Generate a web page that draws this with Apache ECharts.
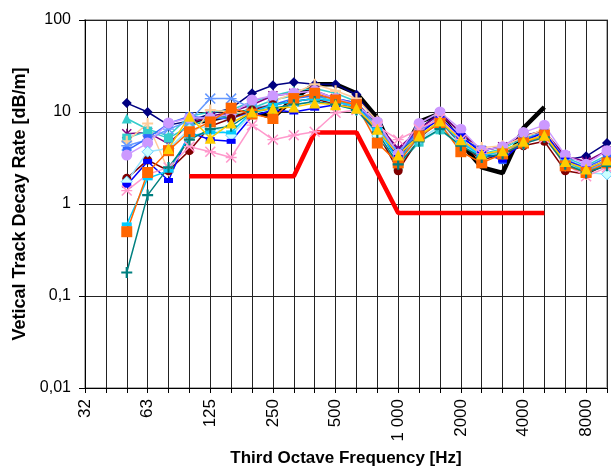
<!DOCTYPE html>
<html>
<head>
<meta charset="utf-8">
<script src="https://cdn.jsdelivr.net/npm/echarts@6/dist/echarts.min.js"></script>
<style>
html, body { margin: 0; padding: 0; background: #fff; }
#chart { width: 611px; height: 467px; }
</style>
</head>
<body>
<div id="chart"></div>
<script>
// third octave bands
var bands = ['32', '40', '50', '63', '80', '100', '125', '160', '200', '250', '315', '400', '500',
    '630', '800', '1000', '1250', '1600', '2000', '2500', '3150', '4000', '5000', '6300', '8000', '10000'];
var bandLabels = { '32': '32', '63': '63', '125': '125', '250': '250', '500': '500',
    '1000': '1 000', '2000': '2000', '4000': '4000', '8000': '8000' };

// measured sites, 50 Hz .. 10 kHz
var navyDiamond = [12.5, 10, 7.2, 8, 9.5, 11, 16, 19.5, 21, 20, 20, 15.5, 7.5, 3.8, 6.5, 10, 5.8, 3.8, 4.2, 5.5, 6.3, 3.0, 3.3, 4.6];
var turqTriangle = [8.5, 6.5, 5.5, 9, 10, 10.5, 13, 15, 17, 18, 16, 13, 7, 3.3, 6, 8.5, 5, 3.5, 4, 5.2, 6, 3.2, 2.6, 3.4];
var purpleStar = [5.8, 6, 4.5, 7.5, 9, 10, 12, 15, 16, 17, 14, 12.5, 7.5, 4, 6.5, 9.5, 6, 3.8, 4.2, 5.5, 6.2, 3.3, 2.9, 3.8];
var turqSquare = [5.2, 6.2, 5.2, 7, 8.5, 9, 11, 13.5, 15, 15, 13, 12, 5.5, 2.6, 4.7, 6.4, 4.3, 3.3, 3.8, 4.8, 5.5, 2.8, 2.3, 2.9];
var peachPlus = [4.8, 7.5, 2.3, 5, 10.5, 10, 9.5, 13, 16, 20, 17, 14, 8, 3.2, 5.5, 9, 5.2, 4.1, 4.3, 5.3, 6.5, 2.9, 2.1, 3.0];
var skyStar = [4.3, 5, 6.5, 8, 14, 14, 11, 12, 13, 14, 13, 11, 7, 3.7, 6, 9, 5, 3.3, 3.7, 4.8, 5.6, 3.1, 2.4, 2.8];
var royalSquare = [3.8, 5.2, 7.5, 9, 8.5, 8.5, 10, 12, 14, 15, 14, 12.5, 6.5, 3.5, 6.5, 8, 5.2, 3.9, 3.0, 5.0, 6.0, 3.0, 2.5, 3.2];
var lavenderCircle = [3.4, 4.6, 7.6, 8.6, 8.6, 9.5, 13.5, 15, 16, 17, 14, 12, 7.8, 3.5, 7.5, 10, 6.5, 3.8, 4.2, 6, 7.2, 3.4, 2.7, 3.8];
var maroonCircle = [1.9, 3.0, 2.3, 3.8, 7, 8.5, 10.5, 12, 13, 14, 12, 11, 6, 2.3, 5.2, 8, 4.5, 3.0, 3.5, 4.3, 4.8, 2.3, 2.1, 2.7];
var iceDiamond = [1.75, 3.7, 4, 6.5, 7, 5.6, 9.5, 11, 12, 13, 12, 10.5, 5.5, 3, 5, 7, 4.5, 3.2, 3.6, 4.5, 5.5, 2.6, 2.2, 2.1];
var blueDash = [1.6, 2.9, 1.8, 6, 5, 4.8, 9, 10.5, 10, 11, 12, 11, 6.5, 3.2, 5.8, 8.5, 5.5, 3.6, 3.0, 4.8, 6, 3.0, 2.4, 3.0];
var pinkStar = [1.4, 2.1, 2.5, 4.2, 3.7, 3.2, 7.2, 5.0, 5.6, 6.1, 9.8, 10.5, 7, 5.0, 6.5, 8.5, 5.0, 3.5, 3.6, 4.6, 5.2, 2.7, 2.0, 2.5];
var cyanDash = [0.6, 1.9, 2.3, 5.5, 6, 6, 10, 12, 13, 14, 13, 11.5, 6.5, 3.0, 5.3, 8, 4.7, 3.3, 3.8, 4.7, 5.4, 2.9, 2.3, 2.6];
var orangeSquare = [0.5, 2.2, 3.8, 6.1, 7.8, 11, 9.5, 8.5, 14, 16, 13.5, 12, 4.6, 2.8, 5.5, 7.5, 3.7, 2.8, 3.5, 4.6, 5.6, 2.6, 2.2, 2.8];
var tealPlus = [0.18, 1.25, 2.5, 5, 6.5, 7, 10, 11, 12, 13, 12, 10.5, 6.0, 2.7, 4.8, 6.5, 4.3, 3.2, 3.5, 4.5, 5.3, 2.7, 2.2, 2.6];
var goldTriangle = [null, null, 4, 9, 5.2, 7.6, 10, 11, 11.3, 12.5, 12, 11, 6.5, 3.4, 5.5, 8, 5, 3.5, 3.8, 4.8, 5.6, 2.9, 2.4, 3.0];
// 100 Hz .. 5 kHz
var blackLine = [7.6, 8.2, 9.3, 10.3, 8.7, 14, 20, 20, 16, 8.6, 2.8, 7.8, 9.6, 4.6, 2.5, 2.17, 6.7, 11.3];
var redLimit = [2, 2, 2, 2, 2, 2, 6, 6, 6, 2.2, 0.8, 0.8, 0.8, 0.8, 0.8, 0.8, 0.8, 0.8];

var plusPath = 'path://M4,0 H6 V4 H10 V6 H6 V10 H4 V6 H0 V4 H4 Z';
var starPath = 'path://M0,1 L1,0 L5,4 L9,0 L10,1 L6,5 L10,9 L9,10 L5,6 L1,10 L0,9 L4,5 Z M4.4,0 H5.6 V10 H4.4 Z';
var xPath = 'path://M0,1 L1,0 L5,4 L9,0 L10,1 L6,5 L10,9 L9,10 L5,6 L1,10 L0,9 L4,5 Z M0,4.4 H10 V5.6 H0 Z';

// pad arrays so they line up with the band categories
function pad(arr, first) {
    var out = [];
    for (var i = 0; i < bands.length; i++) {
        var k = i - first;
        out.push(k >= 0 && k < arr.length ? arr[k] : null);
    }
    return out;
}

function site(data, color, symbol, size, extra) {
    var s = {
        type: 'line',
        data: pad(data, 2),
        symbol: symbol,
        symbolSize: size,
        showAllSymbol: true,
        connectNulls: false,
        lineStyle: { color: color, width: 1.5 },
        itemStyle: { color: color },
        emphasis: { disabled: true },
        animation: false
    };
    if (extra) {
        for (var key in extra) s[key] = extra[key];
    }
    return s;
}

var chart = echarts.init(document.getElementById('chart'));
var axisFont = 'Liberation Sans';

var option = {
    animation: false,
    grid: {
        left: 85,
        right: 4,
        top: 20,
        bottom: 79,
        outerBoundsMode: 'none',
        show: true,
        borderColor: '#b0b0b0',
        borderWidth: 2
    },
    xAxis: {
        type: 'category',
        data: bands,
        boundaryGap: false,
        name: 'Third Octave Frequency [Hz]',
        nameLocation: 'middle',
        nameGap: 56,
        nameTextStyle: { fontFamily: axisFont, fontWeight: 'bold', fontSize: 17, color: '#000' },
        axisLine: { lineStyle: { color: '#000', width: 1 } },
        axisTick: { show: true, interval: 0, length: 5, lineStyle: { color: '#000' } },
        axisLabel: {
            interval: 0,
            rotate: 90,
            margin: 11,
            fontFamily: axisFont,
            fontSize: 17,
            color: '#000',
            formatter: function (v) { return bandLabels[v] || ''; }
        },
        splitLine: { show: true, interval: 0, lineStyle: { color: '#222', width: 1 } }
    },
    yAxis: {
        type: 'log',
        logBase: 10,
        min: 0.01,
        max: 100,
        name: 'Vetical Track Decay Rate [dB/m]',
        nameLocation: 'middle',
        nameGap: 45,
        nameTextStyle: { fontFamily: axisFont, fontWeight: 'bold', fontSize: 18, color: '#000' },
        axisLine: { show: true, lineStyle: { color: '#000', width: 1 } },
        axisTick: { show: true, length: 6, lineStyle: { color: '#000' } },
        axisLabel: {
            fontFamily: axisFont,
            fontSize: 16,
            color: '#000',
            margin: 14,
            formatter: function (v) { return String(v).replace('.', ','); }
        },
        minorTick: { show: false },
        splitLine: { show: true, lineStyle: { color: '#222', width: 1 } }
    },
    series: [
        {
            type: 'line',
            data: pad(blackLine, 5),
            symbol: 'none',
            lineStyle: { color: '#000', width: 4.5 },
            emphasis: { disabled: true },
            z: 2
        },
        site(navyDiamond, '#000080', 'diamond', 10),
        site(turqTriangle, '#33CCCC', 'triangle', 10),
        site(purpleStar, '#800080', starPath, 10),
        site(turqSquare, '#33CCCC', 'rect', 9),
        site(peachPlus, '#FFCC99', plusPath, 11),
        site(skyStar, '#6699FF', xPath, 11),
        site(royalSquare, '#3366FF', 'rect', 8),
        site(lavenderCircle, '#CC99FF', 'circle', 11),
        site(maroonCircle, '#800000', 'circle', 9),
        site(iceDiamond, '#99E6FF', 'diamond', 11, { itemStyle: { color: '#CCFFFF', borderColor: '#66CCFF', borderWidth: 1 } }),
        site(blueDash, '#0000FF', 'rect', [9, 5]),
        site(pinkStar, '#FF99CC', xPath, 11),
        site(cyanDash, '#00CCFF', 'rect', [10, 4]),
        site(orangeSquare, '#FF6600', 'rect', 11),
        site(tealPlus, '#008080', plusPath, 11),
        site(goldTriangle, '#FFCC00', 'triangle', 11),
        {
            type: 'line',
            data: pad(redLimit, 5),
            symbol: 'none',
            lineStyle: { color: '#FF0000', width: 4.5 },
            emphasis: { disabled: true },
            z: 3
        }
    ]
};

chart.setOption(option);
</script>
</body>
</html>
